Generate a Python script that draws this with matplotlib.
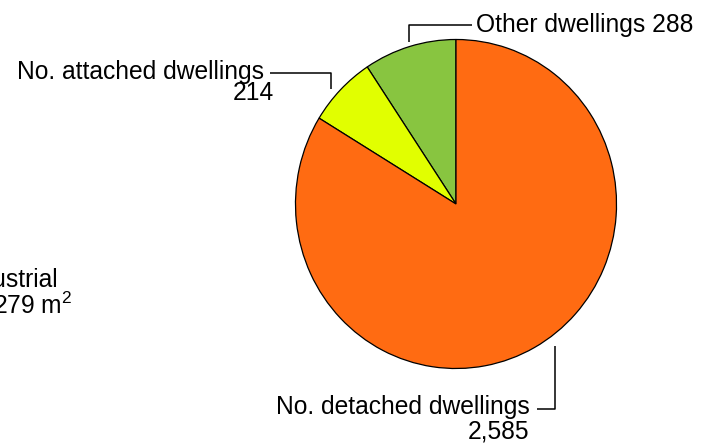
import matplotlib
matplotlib.use("Agg")
import matplotlib.pyplot as plt

# Data
categories = ["Other dwellings", "No. attached dwellings", "No. detached dwellings"]
values = [288, 214, 2585]
value_labels = ["288", "214", "2,585"]
colors = ["#88C540", "#E1FF00", "#FF6B12"]

plt.rcParams['font.family'] = ['Liberation Sans', 'DejaVu Sans']
plt.rcParams['mathtext.fontset'] = 'custom'
plt.rcParams['mathtext.rm'] = 'Liberation Sans'
plt.rcParams['mathtext.it'] = 'Liberation Sans'
plt.rcParams['mathtext.default'] = 'regular'
FS = 17.7

W, H = 711, 447
fig = plt.figure(figsize=(W / 100, H / 100), dpi=100)
ax = fig.add_axes([0, 0, 1, 1])

def Y(y):
    return H - y

# Pie occupies pixel box x 295..617, y 39..369
px0, px1, py0, py1 = 295, 617, 39, 369
pax = fig.add_axes([px0 / W, (H - py1) / H, (px1 - px0) / W, (py1 - py0) / H])
pax.pie(values, colors=colors, startangle=90, counterclock=True, radius=1,
        wedgeprops=dict(edgecolor="black", linewidth=0.9))
pax.set_xlim(-1.003, 1.003)
pax.set_ylim(-1.003, 1.003)
pax.set_aspect("auto")
pax.axis("off")

ax.set_xlim(0, W)
ax.set_ylim(0, H)
ax.axis("off")

lk = dict(color="black", linewidth=1.1, solid_capstyle="butt")

# Other dwellings label
ax.plot([409, 409, 472], [Y(42), Y(25), Y(25)], **lk)
ax.text(476, Y(25), f"{categories[0]} {value_labels[0]}", ha="left", va="center",
        fontsize=FS, color="black")

# Attached dwellings label
ax.plot([270, 331, 331], [Y(72.5), Y(72.5), Y(89)], **lk)
ax.text(264, Y(72), categories[1], ha="right", va="center", fontsize=FS, color="black")
ax.text(274, Y(93), value_labels[1], ha="right", va="center", fontsize=FS, color="black")

# Detached dwellings label
ax.plot([555, 555, 537], [Y(346), Y(409), Y(409)], **lk)
ax.text(530, Y(407), categories[2], ha="right", va="center", fontsize=FS, color="black")
ax.text(529, Y(432), value_labels[2], ha="right", va="center", fontsize=FS, color="black")

# Partially visible label from neighbouring chart (cut at left edge)
ax.text(58, Y(280), "Industrial", ha="right", va="center", fontsize=FS, color="black")
ax.text(72, Y(306), "279 m$^2$", ha="right", va="center", fontsize=FS, color="black")

fig.savefig("out.png", dpi=100)
